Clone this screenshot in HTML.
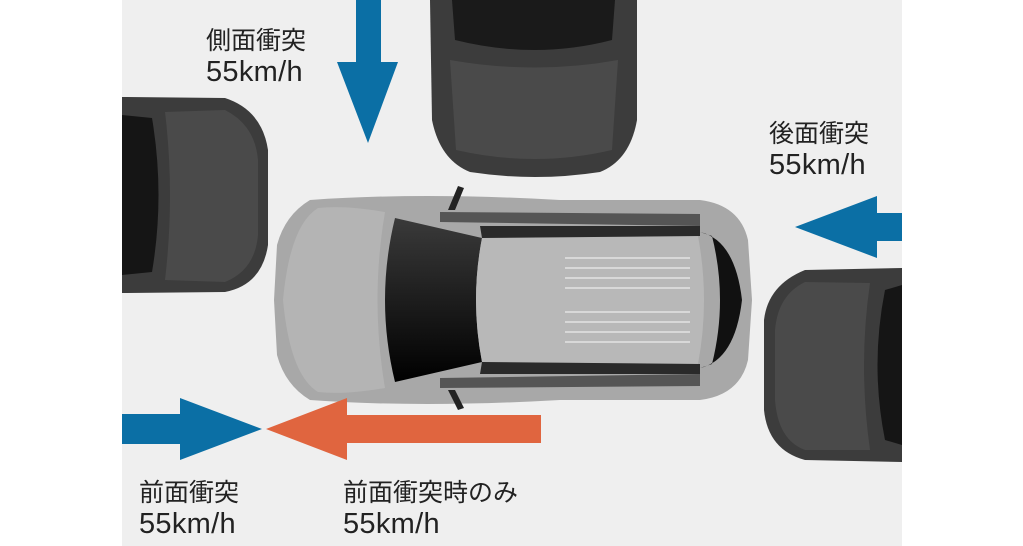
<!DOCTYPE html>
<html><head><meta charset="utf-8"><style>
html,body{margin:0;padding:0;background:#fff;}
.w{position:relative;width:1023px;height:546px;overflow:hidden;background:#fff;}
svg{position:absolute;left:0;top:0;}
.t{position:absolute;font-family:"Liberation Sans","Noto Sans CJK JP",sans-serif;font-size:25px;line-height:31px;color:#222;}
.t span{font-size:29px;letter-spacing:0.3px;}
</style></head><body><div class="w">
<svg width="1023" height="546" viewBox="0 0 1023 546">
<defs>
<linearGradient id="gl" x1="0" y1="0" x2="0" y2="1"><stop offset="0" stop-color="#3a3a3a"/><stop offset="1" stop-color="#000"/></linearGradient>
<clipPath id="c"><rect x="122" y="0" width="780" height="546"/></clipPath>
</defs>
<rect x="122" y="0" width="780" height="546" fill="#efefef"/>
<g clip-path="url(#c)">
<path d="M430,0 L637,0 L637,120 Q630,160 600,172 Q535,182 470,172 Q440,160 432,120 Z" fill="#3c3c3c"/>
<path d="M452,0 L615,0 L612,40 Q535,60 455,40 Z" fill="#1a1a1a"/>
<path d="M450,60 Q535,75 618,60 L612,150 Q535,168 456,150 Z" fill="#4a4a4a"/>
<path d="M122,97 L225,98 Q262,110 268,150 L268,245 Q262,285 225,292 L122,293 Z" fill="#3c3c3c"/>
<path d="M122,115 L152,118 Q165,195 152,272 L122,275 Z" fill="#151515"/>
<path d="M165,112 L225,110 Q255,125 258,160 L258,235 Q255,270 225,282 L165,280 Q175,195 165,112 Z" fill="#4a4a4a"/>
<path d="M902,268 L805,270 Q768,285 764,320 L764,410 Q768,450 805,460 L902,462 Z" fill="#3c3c3c"/>
<path d="M902,285 L885,290 Q870,365 885,440 L902,445 Z" fill="#151515"/>
<path d="M870,283 L805,282 Q778,295 775,330 L775,400 Q778,440 805,450 L870,450 Q858,365 870,283 Z" fill="#4a4a4a"/>
<path d="M310,200 Q420,192 560,200 L700,200 Q740,205 748,240 L752,300 L748,360 Q740,395 700,400 L560,400 Q420,408 310,400 Q285,385 277,355 L274,300 L277,245 Q285,215 310,200 Z" fill="#a8a8a8"/>
<path d="M318,208 Q345,205 385,212 Q370,300 385,388 Q345,395 318,392 Q290,375 283,300 Q290,225 318,208 Z" fill="#b4b4b4"/>
<path d="M395,218 L482,238 Q470,300 482,362 L395,382 Q375,300 395,218 Z" fill="url(#gl)"/>
<path d="M482,238 L698,236 Q710,300 698,364 L482,362 Q470,300 482,238 Z" fill="#b8b8b8"/>
<g stroke="#d8d8d8" stroke-width="2">
<line x1="565" y1="258" x2="690" y2="258"/><line x1="565" y1="268" x2="690" y2="268"/><line x1="565" y1="278" x2="690" y2="278"/><line x1="565" y1="288" x2="690" y2="288"/><line x1="565" y1="312" x2="690" y2="312"/><line x1="565" y1="322" x2="690" y2="322"/><line x1="565" y1="332" x2="690" y2="332"/><line x1="565" y1="342" x2="690" y2="342"/>
</g>
<path d="M480,226 L700,226 L700,236 L482,238 Z M480,374 L700,374 L700,364 L482,362 Z" fill="#2a2a2a"/>
<path d="M440,212 L700,214 L700,226 L440,222 Z M440,388 L700,386 L700,374 L440,378 Z" fill="#555"/>
<path d="M700,232 Q735,240 742,300 Q735,360 700,368 L712,364 Q728,300 712,236 Z" fill="#111"/>
<path d="M448,210 L458,186 L464,188 L455,210 Z M448,390 L458,410 L464,408 L455,390 Z" fill="#222"/>
</g>
<path d="M356,0 L381,0 L381,62 L398,62 L368,143 L337,62 L356,62 Z" fill="#0b6fa5"/>
<path d="M902,213 L877,213 L877,196 L795,227 L877,258 L877,241 L902,241 Z" fill="#0b6fa5"/>
<path d="M122,414 L180,414 L180,398 L262,429 L180,460 L180,444 L122,444 Z" fill="#0b6fa5"/>
<path d="M541,415 L347,415 L347,398 L266,429 L347,460 L347,443 L541,443 Z" fill="#e0653f"/>
</svg>
<div class="t" style="left:206px;top:26px;">側面衝突<br><span>55km/h</span></div>
<div class="t" style="left:769px;top:119px;">後面衝突<br><span>55km/h</span></div>
<div class="t" style="left:139px;top:478px;">前面衝突<br><span>55km/h</span></div>
<div class="t" style="left:343px;top:478px;">前面衝突時のみ<br><span>55km/h</span></div>
</div></body></html>
